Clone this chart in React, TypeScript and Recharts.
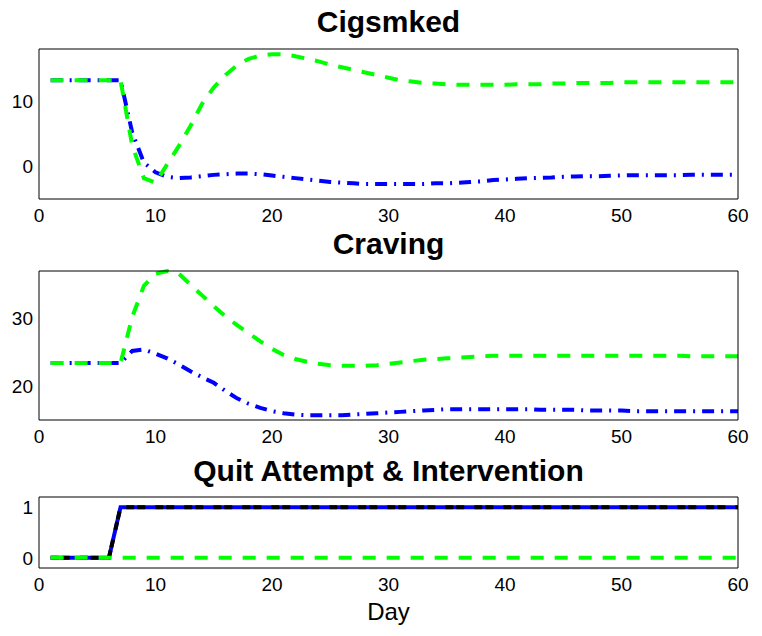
import { LineChart, Line, XAxis, YAxis } from "recharts";

// day index (x axis)
const days = [
  1, 2, 3, 4, 5, 6, 7, 8, 9, 10, 11, 12, 13, 14, 15, 16, 17, 18, 19, 20,
  21, 22, 23, 24, 25, 26, 27, 28, 29, 30, 31, 32, 33, 34, 35, 36, 37, 38, 39, 40,
  41, 42, 43, 44, 45, 46, 47, 48, 49, 50, 51, 52, 53, 54, 55, 56, 57, 58, 59, 60,
];

// Cigsmked
const cigsBlue = [
  13.2, 13.2, 13.2, 13.2, 13.2, 13.2, 13.2, 5.2, 0.6, -0.9,
  -1.6, -1.8, -1.7, -1.5, -1.3, -1.2, -1.1, -1.1, -1.2, -1.4,
  -1.6, -1.8, -2.0, -2.2, -2.4, -2.5, -2.6, -2.7, -2.7, -2.7,
  -2.7, -2.7, -2.7, -2.6, -2.6, -2.5, -2.4, -2.3, -2.1, -2.0,
  -1.9, -1.8, -1.75, -1.7, -1.6, -1.55, -1.5, -1.5, -1.45, -1.4,
  -1.35, -1.35, -1.35, -1.35, -1.35, -1.3, -1.3, -1.3, -1.3, -1.3,
];
const cigsGreen = [
  13.2, 13.2, 13.2, 13.2, 13.2, 13.2, 13.2, 3.2, -1.8, -2.5,
  0.3, 3.1, 6.2, 9.6, 12.1, 14.0, 15.5, 16.5, 17.0, 17.2,
  17.2, 16.9, 16.5, 16.1, 15.6, 15.2, 14.8, 14.4, 14.0, 13.6,
  13.2, 13.0, 12.8, 12.7, 12.6, 12.5, 12.5, 12.5, 12.5, 12.5,
  12.6, 12.6, 12.6, 12.7, 12.7, 12.8, 12.8, 12.8, 12.8, 12.9,
  12.9, 12.9, 12.9, 12.9, 12.9, 12.9, 12.9, 12.9, 12.9, 12.9,
];

// Craving
const cravBlue = [
  23.4, 23.4, 23.4, 23.4, 23.4, 23.4, 23.4, 25.2, 25.4, 24.8,
  24.1, 23.2, 22.2, 21.3, 20.5, 19.3, 18.2, 17.4, 16.8, 16.3,
  16.0, 15.8, 15.7, 15.7, 15.7, 15.7, 15.8, 15.9, 16.0, 16.1,
  16.2, 16.3, 16.4, 16.5, 16.6, 16.6, 16.6, 16.6, 16.6, 16.6,
  16.6, 16.6, 16.5, 16.5, 16.5, 16.5, 16.4, 16.4, 16.4, 16.4,
  16.3, 16.3, 16.3, 16.3, 16.3, 16.3, 16.3, 16.3, 16.3, 16.3,
];
const cravGreen = [
  23.4, 23.4, 23.4, 23.4, 23.4, 23.4, 23.4, 30.2, 34.8, 36.6,
  37.0, 36.6, 35.0, 33.4, 31.8, 30.3, 29.0, 27.8, 26.6, 25.5,
  24.6, 24.0, 23.6, 23.3, 23.1, 23.0, 23.0, 23.0, 23.1, 23.3,
  23.5, 23.7, 23.9, 24.0, 24.1, 24.2, 24.3, 24.4, 24.5, 24.5,
  24.5, 24.5, 24.5, 24.5, 24.5, 24.5, 24.5, 24.5, 24.5, 24.5,
  24.5, 24.5, 24.5, 24.5, 24.5, 24.4, 24.4, 24.4, 24.4, 24.4,
];

// Quit Attempt & Intervention
const quitBlue = [
  0, 0, 0, 0, 0, 0, 1, 1, 1, 1, 1, 1, 1, 1, 1, 1, 1, 1, 1, 1,
  1, 1, 1, 1, 1, 1, 1, 1, 1, 1, 1, 1, 1, 1, 1, 1, 1, 1, 1, 1,
  1, 1, 1, 1, 1, 1, 1, 1, 1, 1, 1, 1, 1, 1, 1, 1, 1, 1, 1, 1,
];
const intervention = [
  0, 0, 0, 0, 0, 0, 1, 1, 1, 1, 1, 1, 1, 1, 1, 1, 1, 1, 1, 1,
  1, 1, 1, 1, 1, 1, 1, 1, 1, 1, 1, 1, 1, 1, 1, 1, 1, 1, 1, 1,
  1, 1, 1, 1, 1, 1, 1, 1, 1, 1, 1, 1, 1, 1, 1, 1, 1, 1, 1, 1,
];
const quitGreen = [
  0, 0, 0, 0, 0, 0, 0, 0, 0, 0, 0, 0, 0, 0, 0, 0, 0, 0, 0, 0,
  0, 0, 0, 0, 0, 0, 0, 0, 0, 0, 0, 0, 0, 0, 0, 0, 0, 0, 0, 0,
  0, 0, 0, 0, 0, 0, 0, 0, 0, 0, 0, 0, 0, 0, 0, 0, 0, 0, 0, 0,
];

const xTicks = [0, 10, 20, 30, 40, 50, 60];

const FONT = '"Liberation Sans", Arial, Helvetica, sans-serif';
const BLUE = "#0000ff";
const GREEN = "#00ff00";
const W = 762;

type PanelProps = {
  top: number;
  marginTop: number;
  height: number;
  domain: [number, number];
  yTicks: number[];
  children: React.ReactNode;
  data: Record<string, number>[];
};

function Panel({ top, marginTop, height, domain, yTicks, children, data }: PanelProps) {
  const tickStyle = { fill: "#000", fontSize: 19, fontFamily: FONT };
  return (
    <div style={{ position: "absolute", left: 0, top }}>
      <LineChart
        width={W}
        height={height}
        data={data}
        margin={{ top: marginTop, right: 24, bottom: 11, left: 0 }}
      >
        <XAxis
          dataKey="day"
          type="number"
          domain={[0, 60]}
          ticks={xTicks}
          tickLine={false}
          axisLine={false}
          tickSize={0}
          tickMargin={10}
          height={30}
          tick={tickStyle}
        />
        {/* inward tick marks + box edges, MATLAB style */}
        <XAxis xAxisId="inB" type="number" domain={[0, 60]} ticks={xTicks} orientation="bottom" mirror tick={false} tickSize={5} stroke="#000" />
        <XAxis xAxisId="inT" type="number" domain={[0, 60]} ticks={xTicks} orientation="top" mirror tick={false} tickSize={5} stroke="#000" />
        <YAxis
          type="number"
          domain={domain}
          ticks={yTicks}
          width={39}
          tickLine={false}
          axisLine={false}
          tickSize={0}
          tickMargin={6}
          tick={tickStyle}
        />
        <YAxis yAxisId="inL" type="number" domain={domain} ticks={yTicks} orientation="left" mirror tick={false} tickSize={5} stroke="#000" />
        <YAxis yAxisId="inR" type="number" domain={domain} ticks={yTicks} orientation="right" mirror tick={false} tickSize={5} stroke="#000" />
        {children}
      </LineChart>
    </div>
  );
}

// line-height kept tight so the title boxes do not run into the tick labels
const titleStyle = (top: number): React.CSSProperties => ({
  position: "absolute",
  left: 39,
  width: 699,
  top,
  textAlign: "center",
  fontFamily: FONT,
  fontWeight: "bold",
  fontSize: 30,
  lineHeight: "22px",
  color: "#000",
});

export default function App() {
  const cigsData = days.map((d, i) => ({ day: d, blue: cigsBlue[i], green: cigsGreen[i] }));
  const cravData = days.map((d, i) => ({ day: d, blue: cravBlue[i], green: cravGreen[i] }));
  const quitData = days.map((d, i) => ({
    day: d,
    blue: quitBlue[i],
    black: intervention[i],
    green: quitGreen[i],
  }));

  return (
    <div
      style={{
        position: "absolute",
        left: 0,
        top: 0,
        width: W,
        height: 636,
        background: "#fff",
        overflow: "hidden",
      }}
    >
      <Panel top={0} marginTop={49} height={240} domain={[-5, 18]} yTicks={[0, 10]} data={cigsData}>
        <Line dataKey="blue" type="linear" stroke={BLUE} strokeWidth={4} strokeDasharray="12 7 2 7" dot={false} isAnimationActive={false} />
        <Line dataKey="green" type="linear" stroke={GREEN} strokeWidth={4} strokeDasharray="13 11" dot={false} isAnimationActive={false} />
      </Panel>
      <Panel top={262} marginTop={9} height={199} domain={[15, 37]} yTicks={[20, 30]} data={cravData}>
        <Line dataKey="blue" type="linear" stroke={BLUE} strokeWidth={4} strokeDasharray="12 7 2 7" dot={false} isAnimationActive={false} />
        <Line dataKey="green" type="linear" stroke={GREEN} strokeWidth={4} strokeDasharray="13 11" dot={false} isAnimationActive={false} />
      </Panel>
      <Panel top={490} marginTop={7} height={119} domain={[-0.2, 1.2]} yTicks={[0, 1]} data={quitData}>
        <Line dataKey="blue" type="linear" stroke={BLUE} strokeWidth={4} dot={false} isAnimationActive={false} />
        <Line dataKey="black" type="linear" stroke="#000" strokeWidth={4} strokeDasharray="8 3 8 10" dot={false} isAnimationActive={false} />
        <Line dataKey="green" type="linear" stroke={GREEN} strokeWidth={4} strokeDasharray="13 11" dot={false} isAnimationActive={false} />
      </Panel>

      <div style={titleStyle(11)}>Cigsmked</div>
      <div style={titleStyle(233)}>Craving</div>
      <div style={titleStyle(460)}>Quit Attempt &amp; Intervention</div>
      <div
        style={{
          position: "absolute",
          left: 39,
          width: 699,
          top: 604,
          textAlign: "center",
          fontFamily: FONT,
          fontSize: 24,
          lineHeight: "16px",
          color: "#000",
        }}
      >
        Day
      </div>
    </div>
  );
}
